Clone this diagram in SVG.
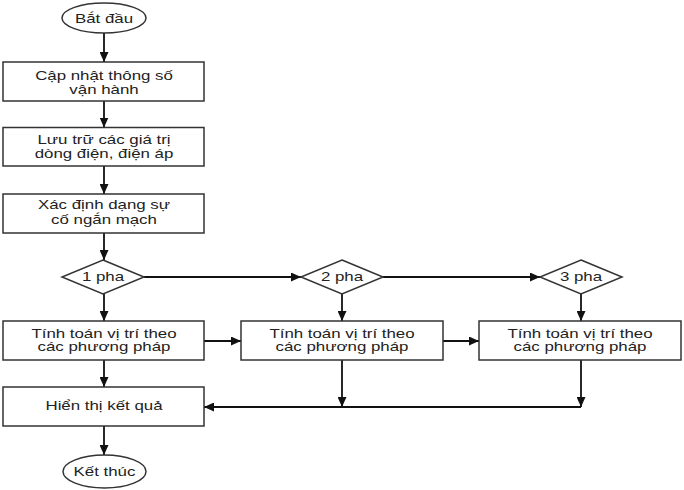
<svg xmlns="http://www.w3.org/2000/svg" width="684" height="490" viewBox="0 0 684 490">
<defs>
<style>
.shape{fill:#fff;stroke:#333;stroke-width:1.5}
.t{font-family:"Liberation Sans",Arial,sans-serif;font-size:12.5px;fill:#222;text-anchor:middle}
.c{fill:none;stroke:#111;stroke-width:1.8}
</style>
<marker id="ah" markerUnits="userSpaceOnUse" markerWidth="10" markerHeight="9" refX="10" refY="4.5" orient="auto">
<path d="M0,0 L10,4.5 L0,9 z" fill="#111"/>
</marker>
</defs>
<rect width="684" height="490" fill="#fff"/>
<g id="connectors">
<line class="c" x1="104" y1="33" x2="104" y2="62" marker-end="url(#ah)"/>
<line class="c" x1="104" y1="101" x2="104" y2="127.5" marker-end="url(#ah)"/>
<line class="c" x1="104" y1="166" x2="104" y2="194" marker-end="url(#ah)"/>
<line class="c" x1="104" y1="233" x2="104" y2="260" marker-end="url(#ah)"/>
<line class="c" x1="104" y1="294" x2="104" y2="321" marker-end="url(#ah)"/>
<line class="c" x1="104" y1="360" x2="104" y2="387" marker-end="url(#ah)"/>
<line class="c" x1="104" y1="426" x2="104" y2="455" marker-end="url(#ah)"/>
<line class="c" x1="144" y1="277" x2="301" y2="277" marker-end="url(#ah)"/>
<line class="c" x1="383" y1="277" x2="540" y2="277" marker-end="url(#ah)"/>
<line class="c" x1="342" y1="294" x2="342" y2="321" marker-end="url(#ah)"/>
<line class="c" x1="581" y1="294" x2="581" y2="321" marker-end="url(#ah)"/>
<line class="c" x1="204" y1="341" x2="241" y2="341" marker-end="url(#ah)"/>
<line class="c" x1="443" y1="341" x2="479" y2="341" marker-end="url(#ah)"/>
<line class="c" x1="342" y1="360" x2="342" y2="407" marker-end="url(#ah)"/>
<line class="c" x1="581" y1="360" x2="581" y2="407" marker-end="url(#ah)"/>
<line class="c" x1="581" y1="407" x2="204" y2="407" marker-end="url(#ah)"/>
</g>
<g id="start">
<ellipse class="shape" cx="104" cy="18" rx="42" ry="15"/>
<text class="t" transform="translate(104,22.5) scale(1.35,1)">Bắt đầu</text>
</g>
<g id="update">
<rect class="shape" x="3" y="62" width="201" height="39"/>
<text class="t" transform="translate(104,80) scale(1.35,1)">Cập nhật thông số</text>
<text class="t" transform="translate(104,94) scale(1.35,1)">vận hành</text>
</g>
<g id="store">
<rect class="shape" x="3" y="127.5" width="201" height="38.5"/>
<text class="t" transform="translate(104,144) scale(1.35,1)">Lưu trữ các giá trị</text>
<text class="t" transform="translate(104,157.5) scale(1.35,1)">dòng điện, điện áp</text>
</g>
<g id="identify">
<rect class="shape" x="3" y="194" width="201" height="39"/>
<text class="t" transform="translate(104,209) scale(1.35,1)">Xác định dạng sự</text>
<text class="t" transform="translate(104,223.5) scale(1.35,1)">cố ngắn mạch</text>
</g>
<g id="d1">
<polygon class="shape" points="103,260 144,277 103,294 62,277"/>
<text class="t" transform="translate(103,281) scale(1.35,1)">1 pha</text>
</g>
<g id="d2">
<polygon class="shape" points="342,260 383,277 342,294 301,277"/>
<text class="t" transform="translate(342,281) scale(1.35,1)">2 pha</text>
</g>
<g id="d3">
<polygon class="shape" points="581,260 622,277 581,294 540,277"/>
<text class="t" transform="translate(581,281) scale(1.35,1)">3 pha</text>
</g>
<g id="calc1">
<rect class="shape" x="3" y="321" width="201" height="39"/>
<text class="t" transform="translate(104,337.5) scale(1.35,1)">Tính toán vị trí theo</text>
<text class="t" transform="translate(104,351) scale(1.35,1)">các phương pháp</text>
</g>
<g id="calc2">
<rect class="shape" x="241" y="321" width="202" height="39"/>
<text class="t" transform="translate(342,337.5) scale(1.35,1)">Tính toán vị trí theo</text>
<text class="t" transform="translate(342,351) scale(1.35,1)">các phương pháp</text>
</g>
<g id="calc3">
<rect class="shape" x="479" y="321" width="202" height="39"/>
<text class="t" transform="translate(580,337.5) scale(1.35,1)">Tính toán vị trí theo</text>
<text class="t" transform="translate(580,351) scale(1.35,1)">các phương pháp</text>
</g>
<g id="display">
<rect class="shape" x="3" y="387" width="201" height="39"/>
<text class="t" transform="translate(104,410) scale(1.35,1)">Hiển thị kết quả</text>
</g>
<g id="end">
<ellipse class="shape" cx="104.5" cy="471.5" rx="41.5" ry="16.5"/>
<text class="t" transform="translate(104.5,476) scale(1.35,1)">Kết thúc</text>
</g>
</svg>
